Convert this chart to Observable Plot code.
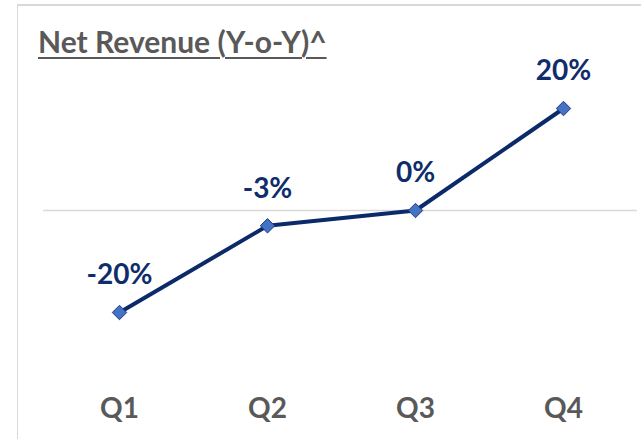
<!DOCTYPE html>
<html>
<head>
<meta charset="utf-8">
<script src="https://cdn.jsdelivr.net/npm/d3@7"></script>
<script src="https://cdn.jsdelivr.net/npm/@observablehq/plot@0.6"></script>
<style>
  html, body { margin: 0; padding: 0; background: #fff; }
  #wrap { position: relative; width: 641px; height: 439px; overflow: hidden; }
  #frame { position: absolute; left: 17px; top: 4px; width: 700px; height: 500px;
           border-left: 1.5px solid #d9d9d9; border-top: 2px solid #d9d9d9; }
  #title { position: absolute; left: 38px; top: 23px; font-family: Lato, sans-serif;
           font-weight: 700; font-size: 30px; color: #595959; text-decoration: underline;
           text-decoration-thickness: 2px; text-underline-offset: 4px; white-space: nowrap; }
  #chart { position: absolute; left: 0; top: 0; }
</style>
</head>
<body>
<div id="wrap">
  <div id="frame"></div>
  <div id="chart"></div>
  <div id="title">Net Revenue (Y-o-Y)^</div>
</div>
<script>
const quarters = ["Q1", "Q2", "Q3", "Q4"];
const growth = [-20, -3, 0, 20];
const labels = ["-20%", "-3%", "0%", "20%"];

const data = quarters.map((q, i) => ({q, v: growth[i], label: labels[i]}));

const navy = "#0b2a69";

const chart = Plot.plot({
  width: 641,
  height: 439,
  marginLeft: 43,
  marginRight: 4,
  marginTop: 60,
  marginBottom: 50,
  style: {fontFamily: "Lato, sans-serif", background: "transparent"},
  x: {type: "point", domain: quarters, range: [118, 564], padding: 0},
  y: {domain: [-20, 20], range: [312, 108], axis: null},
  marks: [
    Plot.ruleY([0], {stroke: "#d9d9d9", strokeWidth: 1.5}),
    Plot.axisX({anchor: "bottom", tickSize: 0, tickPadding: 9, fontSize: 28, fontWeight: 700, fill: "#595959", label: null}),
    Plot.line(data, {x: "q", y: "v", stroke: navy, strokeWidth: 4}),
    Plot.dot(data, {x: "q", y: "v", symbol: "diamond2", r: 6.5, fill: "#4472c4", stroke: "#1f3a78", strokeWidth: 1}),
    Plot.text(data, {x: "q", y: "v", text: "label", dy: -37, fontSize: 28, fontWeight: 700, fill: "#0f2d6a"})
  ]
});
document.getElementById("chart").appendChild(chart);
</script>
</body>
</html>
